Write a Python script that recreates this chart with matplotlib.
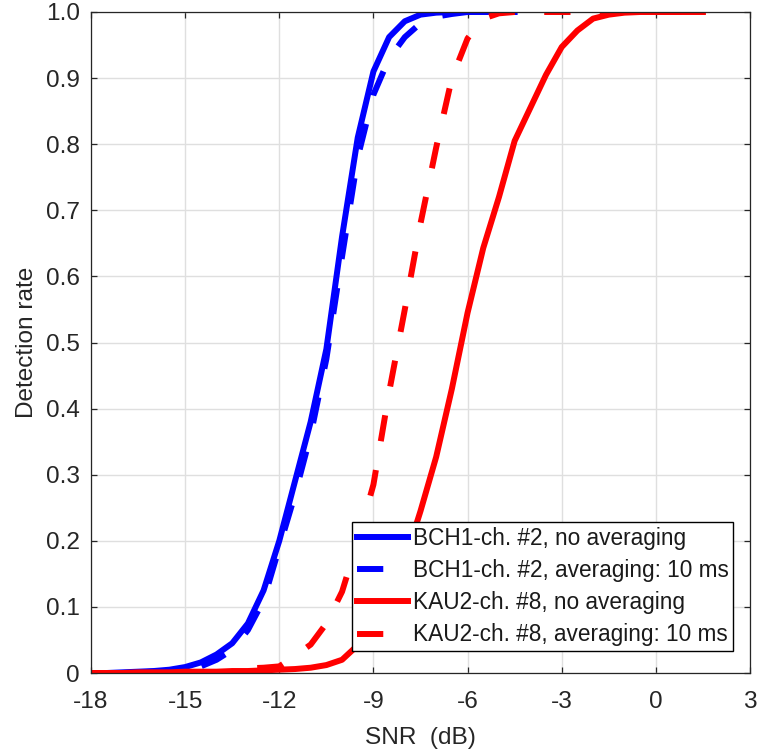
import numpy as np
import matplotlib
matplotlib.use("Agg")
import matplotlib.pyplot as plt

plt.rcParams["font.family"] = ["Liberation Sans", "DejaVu Sans"]
plt.rcParams["axes.unicode_minus"] = False

# SNR grids (dB)
snr_bch = np.arange(-18, -4.5 + 0.01, 0.5)
snr_kau = np.arange(-18, 1.5 + 0.01, 0.5)

# BCH1-ch. #2, no averaging
bch_no_avg = [0.0, 0.0, 0.001, 0.002, 0.003, 0.005, 0.009, 0.016, 0.028, 0.045,
              0.075, 0.125, 0.2, 0.29, 0.38, 0.49, 0.66, 0.81, 0.91, 0.962,
              0.986, 0.996, 0.999, 1.0, 1.0, 1.0, 1.0, 1.0]
# BCH1-ch. #2, averaging: 10 ms
bch_avg = [0.0, 0.0, 0.0, 0.001, 0.002, 0.003, 0.005, 0.01, 0.02, 0.035,
           0.065, 0.11, 0.19, 0.27, 0.36, 0.475, 0.63, 0.78, 0.875, 0.93,
           0.962, 0.983, 0.993, 0.997, 1.0, 1.0, 1.0, 1.0]
# KAU2-ch. #8, no averaging
kau_no_avg = [0.0, 0.0, 0.0, 0.001, 0.001, 0.001, 0.002, 0.002, 0.002, 0.003,
              0.003, 0.004, 0.005, 0.006, 0.008, 0.012, 0.02, 0.042, 0.075, 0.115,
              0.17, 0.245, 0.327, 0.43, 0.545, 0.643, 0.72, 0.805, 0.855, 0.905,
              0.947, 0.972, 0.99, 0.996, 0.999, 1.0, 1.0, 1.0, 1.0, 1.0]
# KAU2-ch. #8, averaging: 10 ms
kau_avg = [0.0, 0.0, 0.0, 0.0, 0.0, 0.0, 0.0, 0.0, 0.0, 0.002,
           0.007, 0.008, 0.01, 0.026, 0.043, 0.075, 0.123, 0.2, 0.285, 0.425,
           0.55, 0.68, 0.795, 0.9, 0.96, 0.99, 0.998, 1.0, 1.0, 1.0,
           1.0, 1.0, 1.0, 1.0, 1.0, 1.0, 1.0, 1.0, 1.0, 1.0]

labels = ["BCH1-ch. #2, no averaging", "BCH1-ch. #2, averaging: 10 ms",
          "KAU2-ch. #8, no averaging", "KAU2-ch. #8, averaging: 10 ms"]

fs = 17.6
fs_leg = 16.3
lw = 4.3
dash = (4.4, 4.9)

fig = plt.figure(figsize=(7.59, 7.54), dpi=100)
ax = fig.add_axes([91 / 759, 1 - 673 / 754, (750 - 91) / 759, (673 - 12) / 754])

ax.plot(snr_bch, bch_no_avg, color="#0000ff", lw=lw, label=labels[0])
ax.plot(snr_bch, bch_avg, color="#0000ff", lw=lw, dashes=dash, label=labels[1])
ax.plot(snr_kau, kau_no_avg, color="#ff0000", lw=lw, label=labels[2])
ax.plot(snr_kau, kau_avg, color="#ff0000", lw=lw, dashes=dash, label=labels[3])

ax.set_xlim(-18, 3)
ax.set_ylim(0, 1)
ax.set_xticks(np.arange(-18, 4, 3))
ax.set_yticks(np.arange(0, 1.01, 0.1))
ax.set_yticklabels(["0"] + ["%.1f" % v for v in np.arange(0.1, 1.01, 0.1)])

ax.grid(True, color="#dfdfdf", lw=1.0)
ax.set_axisbelow(True)
for s in ax.spines.values():
    s.set_color("#262626")
    s.set_linewidth(0.9)
ax.tick_params(direction="in", length=4, width=0.9, color="#262626",
               labelcolor="#262626", labelsize=fs, top=True, right=True)
ax.tick_params(axis="x", pad=13)
ax.tick_params(axis="y", pad=8)

ax.set_xlabel("SNR  (dB)", fontsize=fs, color="#262626", labelpad=10)
ax.set_ylabel("Detection rate", fontsize=fs, color="#262626", labelpad=6)

leg = ax.legend(loc="lower right", bbox_to_anchor=((733 - 91) / 659, (673 - 651) / 661),
                borderaxespad=0, fontsize=fs_leg, handlelength=2.25, handletextpad=0.22,
                labelspacing=0.41, borderpad=0.2, fancybox=False, framealpha=1,
                edgecolor="black")
leg.get_frame().set_linewidth(1.0)
for t in leg.get_texts():
    t.set_color("#1a1a1a")

fig.savefig("out.png", dpi=100)
